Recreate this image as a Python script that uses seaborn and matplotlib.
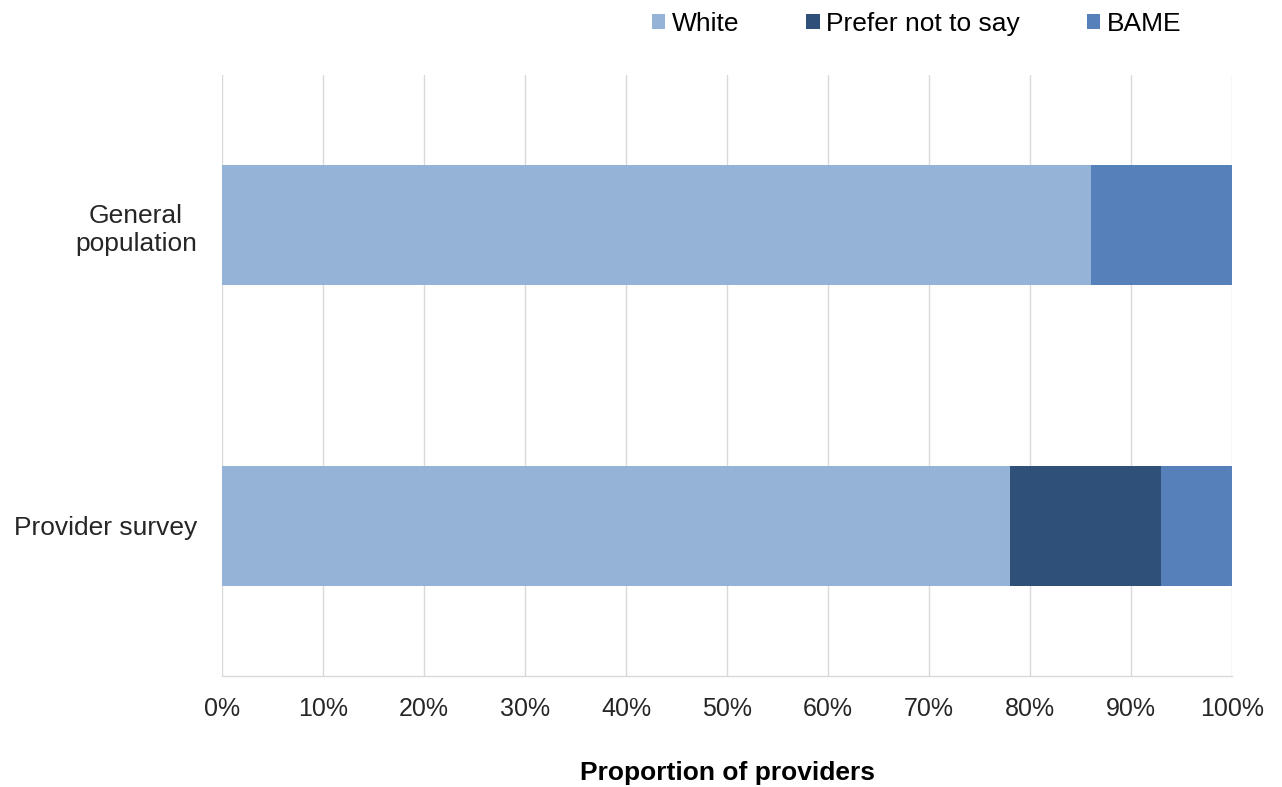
import matplotlib
matplotlib.use("Agg")
import matplotlib.pyplot as plt
import seaborn as sns
import pandas as pd
import numpy as np
from matplotlib.patches import Patch
from matplotlib.ticker import FuncFormatter

categories = ["General\npopulation", "Provider survey"]
series_names = ["White", "Prefer not to say", "BAME"]
white = [86, 78]
prefer = [0, 15]
bame = [14, 7]
colors = ["#95B3D7", "#2F5079", "#5580BA"]

sns.set_theme(style="white")
plt.rcParams["font.family"] = ["Liberation Sans", "DejaVu Sans"]

fig = plt.figure(figsize=(12.82, 7.87), dpi=100)
ax = fig.add_axes([222/1282, 1-676/787, 1010/1282, 601/787])

vals = np.array([white, prefer, bame], dtype=float)
cum = np.cumsum(vals, axis=0)

for i in reversed(range(len(series_names))):
    df = pd.DataFrame({"cat": categories, "val": cum[i]})
    sns.barplot(data=df, x="val", y="cat", orient="h", color=colors[i],
                width=0.4, ax=ax, saturation=1, edgecolor="none", linewidth=0)

ax.set_xlim(0, 100)
ax.set_ylim(1.5, -0.5)
ax.set_xticks(np.arange(0, 101, 10))
ax.xaxis.set_major_formatter(FuncFormatter(lambda v, p: f"{int(v)}%"))
ax.grid(axis="x", color="#D9D9D9", linewidth=1)
ax.set_axisbelow(True)
for s in ["top", "right", "left"]:
    ax.spines[s].set_visible(False)
ax.spines["bottom"].set_color("#D9D9D9")
ax.spines["bottom"].set_linewidth(1)
ax.tick_params(axis="x", length=0, pad=15, labelsize=18, labelcolor="#262626")
ax.tick_params(axis="y", length=0, pad=18, labelsize=19, labelcolor="#262626")
ax.set_ylabel("")
ax.set_xlabel("Proportion of providers", fontsize=19, fontweight="bold",
              labelpad=29, color="#000000")

for lbl in ax.get_yticklabels():
    lbl.set_multialignment("center")
    lbl.set_horizontalalignment("right")
    lbl.set_linespacing(1.25)

handles = [Patch(facecolor=c, edgecolor="none") for c in colors]
leg = fig.legend(handles, series_names, loc="upper left", ncol=3,
                 bbox_to_anchor=(628/1282, 1.015), frameon=False, fontsize=19,
                 handlelength=0.5, handleheight=0.5, handletextpad=0.25,
                 columnspacing=2.55, labelcolor="#000000")

fig.savefig("out.png", dpi=100)
